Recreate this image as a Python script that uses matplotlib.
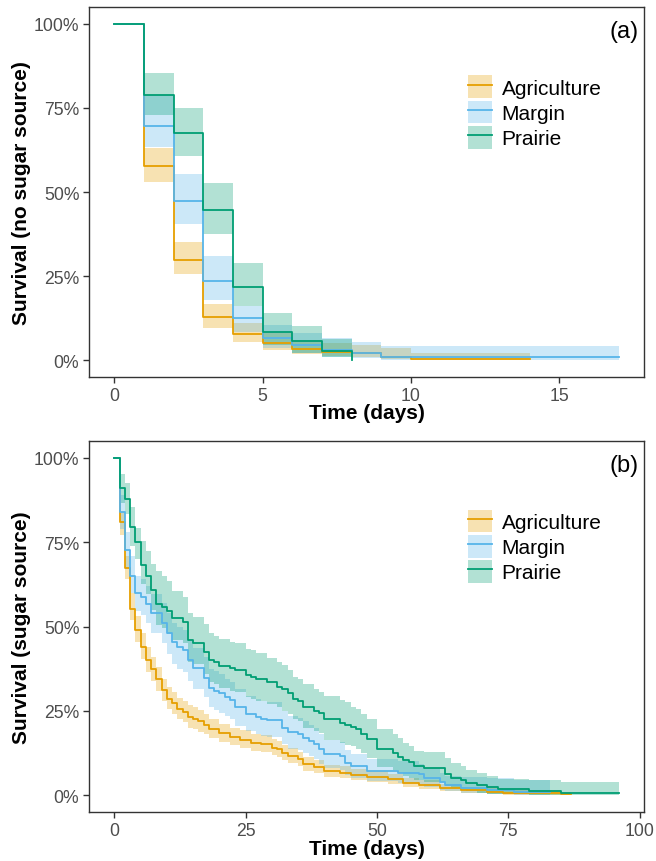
import matplotlib
matplotlib.use("Agg")
import matplotlib.pyplot as plt
from matplotlib.patches import Patch
from matplotlib.lines import Line2D
from matplotlib.legend_handler import HandlerTuple
from matplotlib.ticker import PercentFormatter

plt.rcParams['font.family'] = ['Liberation Sans', 'DejaVu Sans']

groups = ['Agriculture', 'Margin', 'Prairie']
colors = {'Agriculture': '#E69F00', 'Margin': '#56B4E9', 'Prairie': '#009E73'}

# ---- panel (a): no sugar source ----
agri_a_time = [0, 1, 2, 3, 4, 5, 6, 7, 8, 9, 10]
agri_a_surv = [1, .578, .299, .127, .077, .05, .033, .025, .02, .01, .004]
agri_a_low = [1, .529, .255, .097, .055, .03, .018, .012, .008, .002, .0]
agri_a_high = [1, .631, .35, .167, .11, .08, .06, .05, .045, .035, .022]
agri_a_end = 14

marg_a_time = [0, 1, 2, 3, 4, 5, 6, 7, 8, 9]
marg_a_surv = [1, .697, .474, .236, .124, .065, .045, .03, .02, .008]
marg_a_low = [1, .633, .405, .18, .085, .035, .02, .01, .005, .0]
marg_a_high = [1, .787, .554, .31, .162, .105, .08, .065, .055, .043]
marg_a_end = 17

prai_a_time = [0, 1, 2, 3, 4, 5, 6, 7, 8]
prai_a_surv = [1, .789, .675, .446, .218, .085, .056, .027, 0]
prai_a_low = [1, .73, .608, .376, .162, .045, .02, .01, 0]
prai_a_high = [1, .855, .749, .528, .289, .14, .102, .0625, 0]
prai_a_end = 8

# ---- panel (b): sugar source ----
agri_b_time = [0, 1, 2, 3, 4, 5, 6, 7, 8, 9, 10, 11, 12, 13, 14, 15, 16, 17, 18,
               20, 22, 24, 26, 28, 30, 31, 32, 33, 35, 36, 38, 40, 43, 45, 48,
               52, 55, 58, 62, 66, 71, 74, 85]
agri_b_surv = [1, .81, .674, .552, .491, .44, .40, .375, .345, .312, .286, .273, .256,
               .246, .233, .226, .219, .209, .196, .183, .173, .165, .156, .153, .141,
               .136, .126, .116, .106, .091, .083, .071, .067, .060, .055, .047, .037,
               .030, .020, .014, .010, .006, .003]
agri_b_low = [1, .77, .64, .52, .455, .405, .365, .34, .31, .28, .255, .242, .226, .216,
              .2, .195, .188, .18, .169, .157, .148, .141, .132, .129, .118, .113, .104,
              .095, .086, .072, .065, .054, .05, .044, .04, .033, .025, .019, .011, .007,
              .004, .001, 0]
agri_b_high = [1, .84, .71, .60, .53, .48, .44, .41, .38, .345, .32, .305, .288, .278,
               .268, .26, .252, .24, .226, .212, .2, .192, .182, .179, .166, .161, .15,
               .139, .128, .112, .103, .09, .086, .078, .072, .063, .052, .044, .032,
               .025, .02, .014, .009]
agri_b_end = 87

marg_b_time = [0, 1, 2, 3, 4, 5, 6, 7, 9, 10, 11, 12, 13, 14, 15, 17, 18, 19, 20, 21,
               22, 23, 25, 27, 28, 29, 32, 33, 35, 36, 37, 38, 39, 40, 43, 44, 45, 48,
               54, 58, 59, 62, 63, 66, 71, 76]
marg_b_surv = [1, .84, .728, .651, .599, .589, .567, .539, .51, .481, .453, .438, .43,
               .40, .376, .348, .318, .31, .302, .29, .282, .26, .24, .231, .226, .223,
               .20, .186, .181, .171, .161, .153, .136, .123, .116, .096, .086, .073,
               .067, .062, .052, .04, .031, .022, .014, .008]
marg_b_low = [1, .79, .67, .60, .545, .535, .51, .48, .45, .42, .39, .375, .365, .34,
              .315, .29, .26, .252, .245, .235, .227, .205, .19, .18, .176, .172, .152,
              .138, .133, .124, .115, .108, .093, .082, .076, .06, .052, .042, .037,
              .033, .025, .016, .011, .006, .002, 0]
marg_b_high = [1, .89, .78, .71, .65, .64, .62, .595, .57, .54, .51, .50, .49, .46,
               .435, .41, .375, .367, .36, .345, .337, .315, .295, .285, .28, .275, .25,
               .235, .23, .22, .208, .2, .18, .165, .158, .135, .123, .106, .1, .093,
               .081, .066, .058, .053, .05, .045]
marg_b_end = 83

prai_b_time = [0, 1, 2, 3, 4, 5, 6, 7, 8, 9, 10, 11, 13, 14, 15, 17, 18, 19, 20, 22,
               23, 25, 26, 27, 29, 31, 32, 33, 34, 35, 36, 38, 39, 40, 43, 44, 45, 46,
               47, 48, 50, 53, 54, 55, 56, 57, 59, 63, 64, 66, 67, 69, 71, 73, 79, 85]
prai_b_surv = [1, .91, .878, .795, .75, .681, .649, .609, .566, .559, .545, .524, .513,
               .46, .452, .425, .402, .395, .383, .377, .372, .355, .35, .345, .335,
               .322, .315, .302, .285, .28, .261, .251, .243, .226, .213, .209, .203,
               .196, .181, .166, .136, .124, .114, .105, .097, .087, .08, .062, .052,
               .044, .037, .03, .024, .018, .012, .005]
prai_b_low = [1, .865, .835, .74, .70, .625, .595, .55, .505, .495, .478, .46, .45, .395,
              .39, .36, .335, .33, .318, .31, .305, .29, .285, .28, .27, .26, .25, .24,
              .225, .22, .2, .19, .183, .165, .155, .15, .145, .138, .125, .11, .085,
              .075, .066, .058, .052, .045, .04, .027, .02, .015, .011, .007, .004,
              .002, 0, 0]
prai_b_high = [1, .952, .927, .853, .793, .753, .723, .684, .664, .649, .634, .604, .589,
               .539, .529, .507, .482, .472, .462, .455, .45, .432, .43, .422, .408,
               .395, .385, .372, .35, .343, .33, .315, .305, .295, .283, .275, .261,
               .255, .24, .226, .196, .181, .169, .155, .145, .131, .129, .109, .096,
               .086, .076, .066, .056, .049, .045, .039]
prai_b_end = 96

panel_a = {
    'Agriculture': (agri_a_time, agri_a_surv, agri_a_low, agri_a_high, agri_a_end),
    'Margin': (marg_a_time, marg_a_surv, marg_a_low, marg_a_high, marg_a_end),
    'Prairie': (prai_a_time, prai_a_surv, prai_a_low, prai_a_high, prai_a_end),
}
panel_b = {
    'Agriculture': (agri_b_time, agri_b_surv, agri_b_low, agri_b_high, agri_b_end),
    'Margin': (marg_b_time, marg_b_surv, marg_b_low, marg_b_high, marg_b_end),
    'Prairie': (prai_b_time, prai_b_surv, prai_b_low, prai_b_high, prai_b_end),
}


def draw_km(ax, data, xmax, xticks, ylab, tag):
    # bands first, then the step lines on top
    for g in groups:
        t, s, lo, hi, end = data[g]
        tt = list(t) + ([end] if end > t[-1] else [])
        ll = list(lo) + ([lo[-1]] if end > t[-1] else [])
        hh = list(hi) + ([hi[-1]] if end > t[-1] else [])
        ax.fill_between(tt, ll, hh, step='post', color=colors[g], alpha=0.3, lw=0)
    for g in groups:
        t, s, lo, hi, end = data[g]
        tt = list(t) + ([end] if end > t[-1] else [])
        ss = list(s) + ([s[-1]] if end > t[-1] else [])
        ax.step(tt, ss, where='post', color=colors[g], lw=1.3)

    ax.set_xlim(-0.05 * xmax, xmax * 1.05)
    ax.set_ylim(-0.05, 1.05)
    ax.set_xticks(xticks)
    ax.set_yticks([0, .25, .5, .75, 1])
    ax.yaxis.set_major_formatter(PercentFormatter(1.0, decimals=0))
    ax.tick_params(length=4, width=1, color='#333333', labelcolor='#4D4D4D',
                   labelsize=12.7, pad=3)
    for sp in ax.spines.values():
        sp.set_color('#333333')
        sp.set_linewidth(1.0)
    ax.set_xlabel('Time (days)', fontsize=15, fontweight='bold', va='center')
    ax.set_ylabel(ylab, fontsize=15, fontweight='bold', va='center')
    ax.xaxis.set_label_coords(0.5, -0.097)
    ax.yaxis.set_label_coords(-0.121, 0.5)
    ax.text(0.991, 0.935, tag, transform=ax.transAxes, ha='right', va='center',
            fontsize=17)

    handles = [(Patch(facecolor=colors[g], alpha=0.3, lw=0),
                Line2D([], [], color=colors[g], lw=1.3)) for g in groups]
    ax.legend(handles, groups, handler_map={tuple: HandlerTuple(ndivide=1)},
              loc='upper left', bbox_to_anchor=(0.683, 0.815), frameon=False,
              fontsize=15, handlelength=1.13, handleheight=1.3,
              handletextpad=0.48, labelspacing=0.12, borderpad=0, borderaxespad=0)


fig = plt.figure(figsize=(6.56, 8.62), dpi=100)
ax1 = fig.add_axes([0.1357, 0.5615, 0.846, 0.4292])
ax2 = fig.add_axes([0.1357, 0.0568, 0.846, 0.4304])

draw_km(ax1, panel_a, 17, [0, 5, 10, 15], 'Survival (no sugar source)', '(a)')
draw_km(ax2, panel_b, 96, [0, 25, 50, 75, 100], 'Survival (sugar source)', '(b)')

fig.savefig('out.png', dpi=100)
